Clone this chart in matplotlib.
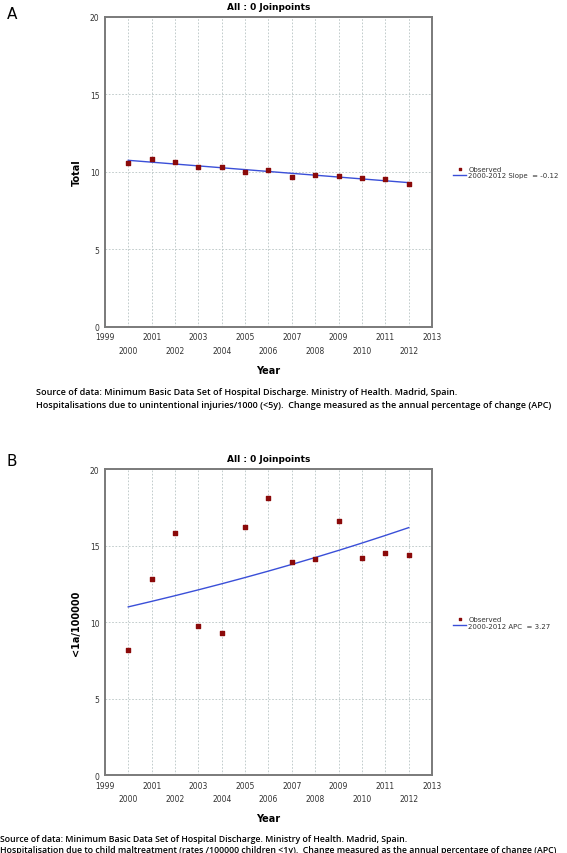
import numpy as np
import matplotlib.pyplot as plt

years = np.arange(2000, 2013)

# panel A: hospitalisations due to unintentional injuries /1000 (<5y)
total = [10.58, 10.84, 10.65, 10.32, 10.30, 9.97, 10.13, 9.68, 9.80, 9.74, 9.60, 9.55, 9.20]
a_intercept = 10.75
a_slope = -0.12

# panel B: child maltreatment rates /100000 (<1y)
maltreat = [8.17, 12.85, 15.84, 9.72, 9.26, 16.25, 18.10, 13.92, 14.10, 16.62, 14.20, 14.50, 14.38]
b_start = 11.0
b_apc = 3.27

source = "Source of data: Minimum Basic Data Set of Hospital Discharge. Ministry of Health. Madrid, Spain."
note_a = "Hospitalisations due to unintentional injuries/1000 (<5y).  Change measured as the annual percentage of change (APC)"
note_b = "Hospitalisation due to child maltreatment (rates /100000 children <1y).  Change measured as the annual percentage of change (APC)"

red = "#8b0a0a"
blue = "#3a4fd8"
frame = "#7a7a7a"


def joinpoint_panel(ax, values, fit, ylabel, fit_label):
    ax.scatter(years, values, marker="s", s=10, color=red, zorder=3, label="Observed")
    ax.plot(years, fit, color=blue, lw=1.0, zorder=2, label=fit_label)
    ax.set_xlim(1999, 2013)
    ax.set_ylim(0, 20)
    ax.set_yticks([0, 5, 10, 15, 20])
    ax.set_xticks(np.arange(1999, 2014, 2))
    ax.set_xticks(np.arange(2000, 2013, 2), minor=True)
    ax.set_xticklabels([str(y) for y in range(1999, 2014, 2)])
    ax.set_xticklabels([str(y) for y in range(2000, 2013, 2)], minor=True)
    ax.tick_params(axis="both", which="both", length=0, labelsize=5.5, colors="#333333")
    ax.tick_params(axis="x", which="major", pad=4)
    ax.tick_params(axis="x", which="minor", pad=14)
    ax.tick_params(axis="y", pad=4)
    ax.grid(True, which="both", color="#b8c4c4", lw=0.6, ls=(0, (2, 2)))
    for s in ax.spines.values():
        s.set_color(frame)
        s.set_linewidth(1.4)
    ax.set_title("All : 0 Joinpoints", fontsize=6.5, fontweight="bold", pad=6)
    ax.set_ylabel(ylabel, fontsize=7, fontweight="bold", labelpad=6)
    ax.set_xlabel("Year", fontsize=7, fontweight="bold", labelpad=7)
    leg = ax.legend(loc="center left", bbox_to_anchor=(1.064, 0.5), frameon=False,
                    fontsize=5, handlelength=1.9, handletextpad=0.3, markerscale=0.6,
                    labelspacing=0.1, borderaxespad=0, borderpad=0)
    for t in leg.get_texts():
        t.set_color("#333333")


fig = plt.figure(figsize=(5.67, 8.54), dpi=100)

ax_a = fig.add_axes([0.185, 0.616, 0.577, 0.363])
fit_a = a_intercept + a_slope * (years - 2000)
joinpoint_panel(ax_a, total, fit_a, "Total", "2000-2012 Slope  = -0.12")

ax_b = fig.add_axes([0.185, 0.0913, 0.577, 0.358])
fit_b = b_start * (1 + b_apc / 100) ** (years - 2000)
joinpoint_panel(ax_b, maltreat, fit_b, "<1a/100000", "2000-2012 APC  = 3.27")

fig.text(0.012, 0.992, "A", fontsize=11, va="top")
fig.text(0.012, 0.468, "B", fontsize=11, va="top")

note_style = dict(fontsize=6.5, family="Open Sans", fontweight="semibold", va="center")
fig.text(0.064, 0.540, source, **note_style)
fig.text(0.064, 0.525, note_a, **note_style)
note_style_b = dict(note_style, fontsize=6.3)
fig.text(0.0, 0.0165, source, **note_style_b)
fig.text(0.0, 0.0045, note_b, **note_style_b)

fig.savefig("out.png", dpi=100)
